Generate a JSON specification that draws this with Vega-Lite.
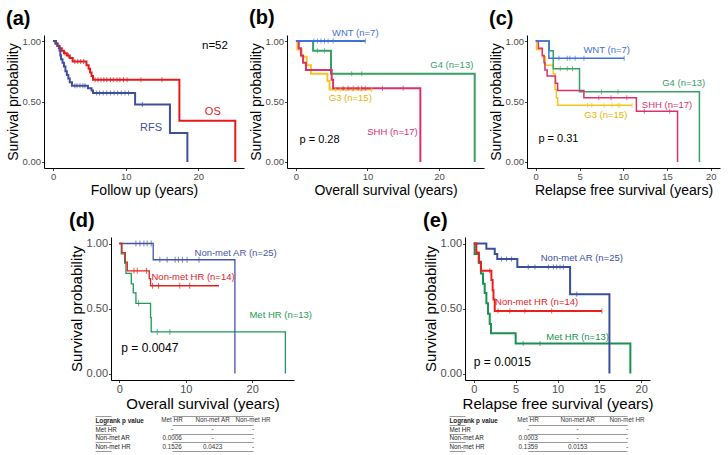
{
  "$schema": "https://vega.github.io/schema/vega-lite/v6.json",
  "background": "white",
  "padding": {"left": 6, "top": 8, "right": 2, "bottom": 2},
  "config": {
    "font": "Liberation Sans",
    "view": {"stroke": null},
    "axis": {"grid": false, "domainColor": "#000", "domainWidth": 1, "tickColor": "#444", "tickSize": 2.5, "labelColor": "#4d4d4d", "labelFontSize": 9.5, "labelPadding": 1, "titleFontSize": 14, "titleFontWeight": "normal", "titleColor": "#000", "titlePadding": 2},
    "title": {"fontSize": 20, "fontWeight": "bold", "anchor": "start", "frame": "bounds", "offset": 6, "color": "#000"}
  },
  "datasets": {
    "a": [
      {"g":"OS","t":0,"s":1,"c":0},{"g":"OS","t":0.3,"s":0.98,"c":0},{"g":"OS","t":0.6,"s":0.96,"c":0},{"g":"OS","t":0.8,"s":0.96,"c":1},{"g":"OS","t":0.9,"s":0.94,"c":0},{"g":"OS","t":1.2,"s":0.92,"c":0},{"g":"OS","t":1.5,"s":0.9,"c":0},{"g":"OS","t":1.65,"s":0.9,"c":1},{"g":"OS","t":1.9,"s":0.88,"c":0},{"g":"OS","t":2.1,"s":0.88,"c":1},{"g":"OS","t":2.3,"s":0.86,"c":0},{"g":"OS","t":2.7,"s":0.83,"c":0},{"g":"OS","t":3.0,"s":0.83,"c":1},{"g":"OS","t":3.4,"s":0.83,"c":1},{"g":"OS","t":3.8,"s":0.83,"c":1},{"g":"OS","t":4.2,"s":0.83,"c":1},{"g":"OS","t":4.6,"s":0.8,"c":0},{"g":"OS","t":4.9,"s":0.77,"c":0},{"g":"OS","t":5.1,"s":0.74,"c":0},{"g":"OS","t":5.3,"s":0.71,"c":0},{"g":"OS","t":5.5,"s":0.68,"c":0},{"g":"OS","t":5.8,"s":0.68,"c":1},{"g":"OS","t":6.2,"s":0.68,"c":1},{"g":"OS","t":6.6,"s":0.68,"c":1},{"g":"OS","t":7.0,"s":0.68,"c":1},{"g":"OS","t":7.4,"s":0.68,"c":1},{"g":"OS","t":7.9,"s":0.68,"c":1},{"g":"OS","t":8.3,"s":0.68,"c":1},{"g":"OS","t":8.8,"s":0.68,"c":1},{"g":"OS","t":9.2,"s":0.68,"c":1},{"g":"OS","t":9.7,"s":0.68,"c":1},{"g":"OS","t":10.2,"s":0.68,"c":1},{"g":"OS","t":12.1,"s":0.68,"c":1},{"g":"OS","t":15.0,"s":0.68,"c":1},{"g":"OS","t":17.4,"s":0.34,"c":0},{"g":"OS","t":25.1,"s":0,"c":0},
      {"g":"RFS","t":0,"s":1,"c":0},{"g":"RFS","t":0.4,"s":0.98,"c":0},{"g":"RFS","t":0.6,"s":0.96,"c":0},{"g":"RFS","t":0.8,"s":0.94,"c":0},{"g":"RFS","t":0.9,"s":0.92,"c":0},{"g":"RFS","t":1.0,"s":0.88,"c":0},{"g":"RFS","t":1.1,"s":0.85,"c":0},{"g":"RFS","t":1.3,"s":0.82,"c":0},{"g":"RFS","t":1.5,"s":0.79,"c":0},{"g":"RFS","t":1.7,"s":0.75,"c":0},{"g":"RFS","t":1.9,"s":0.72,"c":0},{"g":"RFS","t":2.1,"s":0.69,"c":0},{"g":"RFS","t":2.3,"s":0.66,"c":0},{"g":"RFS","t":2.6,"s":0.63,"c":0},{"g":"RFS","t":3.0,"s":0.63,"c":1},{"g":"RFS","t":3.3,"s":0.63,"c":1},{"g":"RFS","t":3.7,"s":0.63,"c":1},{"g":"RFS","t":4.1,"s":0.63,"c":1},{"g":"RFS","t":4.4,"s":0.63,"c":1},{"g":"RFS","t":4.8,"s":0.61,"c":0},{"g":"RFS","t":5.3,"s":0.59,"c":0},{"g":"RFS","t":5.5,"s":0.57,"c":0},{"g":"RFS","t":6.0,"s":0.57,"c":1},{"g":"RFS","t":6.4,"s":0.57,"c":1},{"g":"RFS","t":6.9,"s":0.57,"c":1},{"g":"RFS","t":7.4,"s":0.57,"c":1},{"g":"RFS","t":7.9,"s":0.57,"c":1},{"g":"RFS","t":8.4,"s":0.57,"c":1},{"g":"RFS","t":8.9,"s":0.57,"c":1},{"g":"RFS","t":9.4,"s":0.57,"c":1},{"g":"RFS","t":9.9,"s":0.57,"c":1},{"g":"RFS","t":10.4,"s":0.57,"c":1},{"g":"RFS","t":11.3,"s":0.475,"c":0},{"g":"RFS","t":12.3,"s":0.475,"c":1},{"g":"RFS","t":16.1,"s":0.24,"c":0},{"g":"RFS","t":18.5,"s":0,"c":0}
    ],
    "b": [
      {"g":"G3","t":0,"s":1,"c":0},{"g":"G3","t":0.2,"s":0.93,"c":0},{"g":"G3","t":0.8,"s":0.87,"c":0},{"g":"G3","t":1.5,"s":0.8,"c":0},{"g":"G3","t":2.1,"s":0.73,"c":0},{"g":"G3","t":4.4,"s":0.67,"c":0},{"g":"G3","t":4.7,"s":0.6,"c":0},{"g":"G3","t":5.5,"s":0.6,"c":1},{"g":"G3","t":6.2,"s":0.6,"c":1},{"g":"G3","t":7.0,"s":0.6,"c":1},{"g":"G3","t":8.0,"s":0.6,"c":1},{"g":"G3","t":9.0,"s":0.6,"c":1},{"g":"G3","t":10.6,"s":0.6,"c":1},
      {"g":"G4","t":0,"s":1,"c":0},{"g":"G4","t":2.4,"s":0.92,"c":0},{"g":"G4","t":3.0,"s":0.92,"c":1},{"g":"G4","t":4.0,"s":0.92,"c":1},{"g":"G4","t":4.9,"s":0.73,"c":0},{"g":"G4","t":7.8,"s":0.73,"c":1},{"g":"G4","t":9.2,"s":0.73,"c":1},{"g":"G4","t":25.0,"s":0,"c":0},
      {"g":"SHH","t":0,"s":1,"c":0},{"g":"SHH","t":0.4,"s":0.94,"c":0},{"g":"SHH","t":0.7,"s":0.88,"c":0},{"g":"SHH","t":1.0,"s":0.82,"c":0},{"g":"SHH","t":1.4,"s":0.76,"c":0},{"g":"SHH","t":5.0,"s":0.68,"c":0},{"g":"SHH","t":5.2,"s":0.61,"c":0},{"g":"SHH","t":6.6,"s":0.61,"c":1},{"g":"SHH","t":7.3,"s":0.61,"c":1},{"g":"SHH","t":8.0,"s":0.61,"c":1},{"g":"SHH","t":8.7,"s":0.61,"c":1},{"g":"SHH","t":9.2,"s":0.61,"c":1},{"g":"SHH","t":9.7,"s":0.61,"c":1},{"g":"SHH","t":12.1,"s":0.61,"c":1},{"g":"SHH","t":15.0,"s":0.61,"c":1},{"g":"SHH","t":17.4,"s":0,"c":0},
      {"g":"WNT","t":0,"s":1,"c":0},{"g":"WNT","t":2.5,"s":1,"c":1},{"g":"WNT","t":3.0,"s":1,"c":1},{"g":"WNT","t":3.5,"s":1,"c":1},{"g":"WNT","t":4.0,"s":1,"c":1},{"g":"WNT","t":4.5,"s":1,"c":1},{"g":"WNT","t":5.2,"s":1,"c":1},{"g":"WNT","t":9.7,"s":1,"c":1}
    ],
    "c": [
      {"g":"G3","t":0,"s":1,"c":0},{"g":"G3","t":0.1,"s":0.93,"c":0},{"g":"G3","t":0.75,"s":0.87,"c":0},{"g":"G3","t":1.1,"s":0.8,"c":0},{"g":"G3","t":2.0,"s":0.73,"c":0},{"g":"G3","t":2.2,"s":0.6,"c":0},{"g":"G3","t":2.35,"s":0.53,"c":0},{"g":"G3","t":2.5,"s":0.47,"c":0},{"g":"G3","t":5.9,"s":0.47,"c":1},{"g":"G3","t":6.4,"s":0.47,"c":1},{"g":"G3","t":7.8,"s":0.47,"c":1},{"g":"G3","t":8.7,"s":0.47,"c":1},{"g":"G3","t":9.4,"s":0.47,"c":1},{"g":"G3","t":9.6,"s":0.47,"c":1},{"g":"G3","t":11.0,"s":0.47,"c":1},
      {"g":"G4","t":0,"s":1,"c":0},{"g":"G4","t":1.55,"s":0.92,"c":0},{"g":"G4","t":2.0,"s":0.77,"c":0},{"g":"G4","t":2.8,"s":0.77,"c":1},{"g":"G4","t":3.6,"s":0.77,"c":1},{"g":"G4","t":4.2,"s":0.77,"c":1},{"g":"G4","t":5.0,"s":0.58,"c":0},{"g":"G4","t":7.5,"s":0.58,"c":1},{"g":"G4","t":9.4,"s":0.58,"c":1},{"g":"G4","t":18.7,"s":0,"c":0},
      {"g":"SHH","t":0,"s":1,"c":0},{"g":"SHH","t":0.3,"s":0.94,"c":0},{"g":"SHH","t":0.75,"s":0.88,"c":0},{"g":"SHH","t":0.95,"s":0.82,"c":0},{"g":"SHH","t":1.05,"s":0.76,"c":0},{"g":"SHH","t":1.3,"s":0.71,"c":0},{"g":"SHH","t":2.25,"s":0.65,"c":0},{"g":"SHH","t":2.5,"s":0.59,"c":0},{"g":"SHH","t":5.5,"s":0.53,"c":0},{"g":"SHH","t":7.2,"s":0.53,"c":1},{"g":"SHH","t":8.6,"s":0.53,"c":1},{"g":"SHH","t":10.4,"s":0.53,"c":1},{"g":"SHH","t":11.5,"s":0.42,"c":0},{"g":"SHH","t":12.4,"s":0.42,"c":1},{"g":"SHH","t":15.3,"s":0.42,"c":1},{"g":"SHH","t":16.2,"s":0,"c":0},
      {"g":"WNT","t":0,"s":1,"c":0},{"g":"WNT","t":1.5,"s":0.857,"c":0},{"g":"WNT","t":2.65,"s":0.857,"c":1},{"g":"WNT","t":3.6,"s":0.857,"c":1},{"g":"WNT","t":3.9,"s":0.857,"c":1},{"g":"WNT","t":4.5,"s":0.857,"c":1},{"g":"WNT","t":5.5,"s":0.857,"c":1},{"g":"WNT","t":10.1,"s":0.857,"c":1}
    ],
    "d": [
      {"g":"Met HR","t":0,"s":1,"c":0},{"g":"Met HR","t":0.3,"s":0.92,"c":0},{"g":"Met HR","t":0.8,"s":0.85,"c":0},{"g":"Met HR","t":1.0,"s":0.77,"c":0},{"g":"Met HR","t":1.8,"s":0.69,"c":0},{"g":"Met HR","t":2.1,"s":0.62,"c":0},{"g":"Met HR","t":2.5,"s":0.54,"c":0},{"g":"Met HR","t":2.9,"s":0.54,"c":1},{"g":"Met HR","t":4.7,"s":0.43,"c":0},{"g":"Met HR","t":4.8,"s":0.32,"c":0},{"g":"Met HR","t":5.7,"s":0.32,"c":1},{"g":"Met HR","t":7.6,"s":0.32,"c":1},{"g":"Met HR","t":25.0,"s":0,"c":0},
      {"g":"Non-met AR","t":0,"s":1,"c":0},{"g":"Non-met AR","t":2.5,"s":1,"c":1},{"g":"Non-met AR","t":3.1,"s":1,"c":1},{"g":"Non-met AR","t":3.7,"s":1,"c":1},{"g":"Non-met AR","t":4.2,"s":1,"c":1},{"g":"Non-met AR","t":4.8,"s":1,"c":1},{"g":"Non-met AR","t":5.1,"s":0.875,"c":0},{"g":"Non-met AR","t":6.1,"s":0.875,"c":1},{"g":"Non-met AR","t":7.2,"s":0.875,"c":1},{"g":"Non-met AR","t":8.4,"s":0.875,"c":1},{"g":"Non-met AR","t":8.9,"s":0.875,"c":1},{"g":"Non-met AR","t":9.5,"s":0.875,"c":1},{"g":"Non-met AR","t":10.2,"s":0.875,"c":1},{"g":"Non-met AR","t":12.0,"s":0.875,"c":1},{"g":"Non-met AR","t":17.4,"s":0,"c":0},
      {"g":"Non-met HR","t":0,"s":1,"c":0},{"g":"Non-met HR","t":0.4,"s":0.93,"c":0},{"g":"Non-met HR","t":0.9,"s":0.857,"c":0},{"g":"Non-met HR","t":1.2,"s":0.79,"c":0},{"g":"Non-met HR","t":2.2,"s":0.79,"c":1},{"g":"Non-met HR","t":2.7,"s":0.79,"c":1},{"g":"Non-met HR","t":4.1,"s":0.79,"c":1},{"g":"Non-met HR","t":4.5,"s":0.73,"c":0},{"g":"Non-met HR","t":4.7,"s":0.675,"c":0},{"g":"Non-met HR","t":5.0,"s":0.675,"c":1},{"g":"Non-met HR","t":5.9,"s":0.675,"c":1},{"g":"Non-met HR","t":9.1,"s":0.675,"c":1},{"g":"Non-met HR","t":10.6,"s":0.675,"c":1},{"g":"Non-met HR","t":15.0,"s":0.675,"c":0}
    ],
    "e": [
      {"g":"Met HR","t":0,"s":1,"c":0},{"g":"Met HR","t":0.1,"s":0.92,"c":0},{"g":"Met HR","t":0.6,"s":0.85,"c":0},{"g":"Met HR","t":0.85,"s":0.77,"c":0},{"g":"Met HR","t":1.1,"s":0.69,"c":0},{"g":"Met HR","t":1.3,"s":0.62,"c":0},{"g":"Met HR","t":1.5,"s":0.54,"c":0},{"g":"Met HR","t":1.7,"s":0.46,"c":0},{"g":"Met HR","t":1.9,"s":0.38,"c":0},{"g":"Met HR","t":2.05,"s":0.31,"c":0},{"g":"Met HR","t":5.0,"s":0.23,"c":0},{"g":"Met HR","t":5.9,"s":0.23,"c":1},{"g":"Met HR","t":7.9,"s":0.23,"c":1},{"g":"Met HR","t":18.7,"s":0,"c":0},
      {"g":"Non-met AR","t":0,"s":1,"c":0},{"g":"Non-met AR","t":1.5,"s":0.96,"c":0},{"g":"Non-met AR","t":2.5,"s":0.92,"c":0},{"g":"Non-met AR","t":2.8,"s":0.88,"c":0},{"g":"Non-met AR","t":3.3,"s":0.88,"c":1},{"g":"Non-met AR","t":3.9,"s":0.88,"c":1},{"g":"Non-met AR","t":4.5,"s":0.88,"c":1},{"g":"Non-met AR","t":5.2,"s":0.82,"c":0},{"g":"Non-met AR","t":6.5,"s":0.82,"c":1},{"g":"Non-met AR","t":7.3,"s":0.82,"c":1},{"g":"Non-met AR","t":8.9,"s":0.82,"c":1},{"g":"Non-met AR","t":9.5,"s":0.82,"c":1},{"g":"Non-met AR","t":9.9,"s":0.82,"c":1},{"g":"Non-met AR","t":10.3,"s":0.82,"c":1},{"g":"Non-met AR","t":10.7,"s":0.82,"c":1},{"g":"Non-met AR","t":11.5,"s":0.61,"c":0},{"g":"Non-met AR","t":12.3,"s":0.61,"c":1},{"g":"Non-met AR","t":16.2,"s":0,"c":0},
      {"g":"Non-met HR","t":0,"s":1,"c":0},{"g":"Non-met HR","t":0.3,"s":0.93,"c":0},{"g":"Non-met HR","t":0.6,"s":0.86,"c":0},{"g":"Non-met HR","t":0.85,"s":0.79,"c":0},{"g":"Non-met HR","t":1.9,"s":0.79,"c":1},{"g":"Non-met HR","t":2.1,"s":0.72,"c":0},{"g":"Non-met HR","t":2.25,"s":0.64,"c":0},{"g":"Non-met HR","t":2.35,"s":0.57,"c":0},{"g":"Non-met HR","t":2.5,"s":0.48,"c":0},{"g":"Non-met HR","t":2.9,"s":0.48,"c":1},{"g":"Non-met HR","t":4.3,"s":0.48,"c":1},{"g":"Non-met HR","t":6.1,"s":0.48,"c":1},{"g":"Non-met HR","t":9.3,"s":0.48,"c":1},{"g":"Non-met HR","t":15.3,"s":0.48,"c":1}
    ],
    "td": [
      {"r":"Logrank p value","col":"Met HR","v":"Met HR"},{"r":"Logrank p value","col":"Non-met AR","v":"Non-met AR"},{"r":"Logrank p value","col":"Non-met HR","v":"Non-met HR"},
      {"r":"Met HR","col":"Met HR","v":"-"},{"r":"Met HR","col":"Non-met AR","v":"-"},{"r":"Met HR","col":"Non-met HR","v":"-"},
      {"r":"Non-met AR","col":"Met HR","v":"0.0006"},{"r":"Non-met AR","col":"Non-met AR","v":"-"},{"r":"Non-met AR","col":"Non-met HR","v":"-"},
      {"r":"Non-met HR","col":"Met HR","v":"0.1526"},{"r":"Non-met HR","col":"Non-met AR","v":"0.0423"},{"r":"Non-met HR","col":"Non-met HR","v":"-"}
    ],
    "te": [
      {"r":"Logrank p value","col":"Met HR","v":"Met HR"},{"r":"Logrank p value","col":"Non-met AR","v":"Non-met AR"},{"r":"Logrank p value","col":"Non-met HR","v":"Non-met HR"},
      {"r":"Met HR","col":"Met HR","v":"-"},{"r":"Met HR","col":"Non-met AR","v":"-"},{"r":"Met HR","col":"Non-met HR","v":"-"},
      {"r":"Non-met AR","col":"Met HR","v":"0.0003"},{"r":"Non-met AR","col":"Non-met AR","v":"-"},{"r":"Non-met AR","col":"Non-met HR","v":"-"},
      {"r":"Non-met HR","col":"Met HR","v":"0.1359"},{"r":"Non-met HR","col":"Non-met AR","v":"0.0153"},{"r":"Non-met HR","col":"Non-met HR","v":"-"}
    ]
  },
  "spacing": 14,
  "center": true,
  "resolve": {"scale": {"color": "independent"}},
  "vconcat": [
    {
      "spacing": 5,
      "resolve": {"scale": {"color": "independent"}},
      "hconcat": [
        {
          "width": 200, "height": 133,
          "title": {"text": "(a)"},
          "data": {"name": "a"},
          "layer": [
            {
              "encoding": {
                "x": {"field": "t", "type": "quantitative", "scale": {"domain": [-1.25, 26.3], "nice": false, "zero": false}, "axis": {"values": [0, 5, 10, 15, 20, 25], "title": "Follow up (years)"}},
                "y": {"field": "s", "type": "quantitative", "scale": {"domain": [-0.05, 1.05], "nice": false, "zero": false}, "axis": {"values": [0, 0.25, 0.5, 0.75, 1], "format": ".2f", "title": "Survival probability"}},
                "color": {"field": "g", "type": "nominal", "scale": {"domain": ["OS", "RFS"], "range": ["#e41a1c", "#3f4f9e"]}, "legend": null}
              },
              "layer": [
                {"mark": {"type": "line", "interpolate": "step-after", "strokeWidth": 2}},
                {"transform": [{"filter": "datum.c == 1"}], "mark": {"type": "tick", "orient": "vertical", "size": 5, "thickness": 1}}
              ]
            },
            {"data": {"values": [{"label": "n=52"}]}, "mark": {"type": "text", "fontSize": 11.5, "color": "#000"}, "encoding": {"x": {"datum": 22.3, "type": "quantitative"}, "y": {"datum": 0.96, "type": "quantitative"}, "text": {"field": "label", "type": "nominal"}}},
            {"data": {"values": [{"label": "OS"}]}, "mark": {"type": "text", "fontSize": 11, "color": "#e41a1c"}, "encoding": {"x": {"datum": 22, "type": "quantitative"}, "y": {"datum": 0.41, "type": "quantitative"}, "text": {"field": "label", "type": "nominal"}}},
            {"data": {"values": [{"label": "RFS"}]}, "mark": {"type": "text", "fontSize": 11, "color": "#3f4f9e"}, "encoding": {"x": {"datum": 13.5, "type": "quantitative"}, "y": {"datum": 0.28, "type": "quantitative"}, "text": {"field": "label", "type": "nominal"}}}
          ]
        },
        {
          "width": 197, "height": 133,
          "title": {"text": "(b)", "offset": 0},
          "data": {"name": "b"},
          "layer": [
            {
              "encoding": {
                "x": {"field": "t", "type": "quantitative", "scale": {"domain": [-1.25, 26.3], "nice": false, "zero": false}, "axis": {"values": [0, 5, 10, 15, 20, 25], "title": "Overall survival (years)"}},
                "y": {"field": "s", "type": "quantitative", "scale": {"domain": [-0.05, 1.05], "nice": false, "zero": false}, "axis": {"values": [0, 0.25, 0.5, 0.75, 1], "format": ".2f", "title": "Survival probability"}},
                "color": {"field": "g", "type": "nominal", "scale": {"domain": ["G3", "G4", "SHH", "WNT"], "range": ["#f7c520", "#36a066", "#d8326e", "#4272d7"]}, "legend": null}
              },
              "layer": [
                {"mark": {"type": "line", "interpolate": "step-after", "strokeWidth": 2}},
                {"transform": [{"filter": "datum.c == 1"}], "mark": {"type": "tick", "orient": "vertical", "size": 5, "thickness": 1}}
              ]
            },
            {"data": {"values": [{"label": "WNT (n=7)"}]}, "mark": {"type": "text", "fontSize": 9.5, "color": "#4272d7"}, "encoding": {"x": {"datum": 8.3, "type": "quantitative"}, "y": {"datum": 1.066, "type": "quantitative"}, "text": {"field": "label", "type": "nominal"}}},
            {"data": {"values": [{"label": "G4 (n=13)"}]}, "mark": {"type": "text", "fontSize": 9.5, "color": "#36a066"}, "encoding": {"x": {"datum": 21.8, "type": "quantitative"}, "y": {"datum": 0.8, "type": "quantitative"}, "text": {"field": "label", "type": "nominal"}}},
            {"data": {"values": [{"label": "G3 (n=15)"}]}, "mark": {"type": "text", "fontSize": 9.5, "color": "#e8b400"}, "encoding": {"x": {"datum": 7.6, "type": "quantitative"}, "y": {"datum": 0.53, "type": "quantitative"}, "text": {"field": "label", "type": "nominal"}}},
            {"data": {"values": [{"label": "SHH (n=17)"}]}, "mark": {"type": "text", "fontSize": 9.5, "color": "#d8326e"}, "encoding": {"x": {"datum": 13.5, "type": "quantitative"}, "y": {"datum": 0.25, "type": "quantitative"}, "text": {"field": "label", "type": "nominal"}}},
            {"data": {"values": [{"label": "p = 0.28"}]}, "mark": {"type": "text", "fontSize": 11, "align": "left", "color": "#000"}, "encoding": {"x": {"datum": 0.5, "type": "quantitative"}, "y": {"datum": 0.18, "type": "quantitative"}, "text": {"field": "label", "type": "nominal"}}}
          ]
        },
        {
          "width": 193, "height": 133,
          "title": {"text": "(c)"},
          "data": {"name": "c"},
          "layer": [
            {
              "encoding": {
                "x": {"field": "t", "type": "quantitative", "scale": {"domain": [-1.0, 21.05], "nice": false, "zero": false}, "axis": {"values": [0, 5, 10, 15, 20], "title": "Relapse free survival (years)"}},
                "y": {"field": "s", "type": "quantitative", "scale": {"domain": [-0.05, 1.05], "nice": false, "zero": false}, "axis": {"values": [0, 0.25, 0.5, 0.75, 1], "format": ".2f", "title": "Survival probability"}},
                "color": {"field": "g", "type": "nominal", "scale": {"domain": ["G3", "G4", "SHH", "WNT"], "range": ["#f7c520", "#36a066", "#d8326e", "#4272d7"]}, "legend": null}
              },
              "layer": [
                {"mark": {"type": "line", "interpolate": "step-after", "strokeWidth": 1.5}},
                {"transform": [{"filter": "datum.c == 1"}], "mark": {"type": "tick", "orient": "vertical", "size": 5, "thickness": 1}}
              ]
            },
            {"data": {"values": [{"label": "WNT (n=7)"}]}, "mark": {"type": "text", "fontSize": 9.5, "color": "#4272d7"}, "encoding": {"x": {"datum": 8.1, "type": "quantitative"}, "y": {"datum": 0.93, "type": "quantitative"}, "text": {"field": "label", "type": "nominal"}}},
            {"data": {"values": [{"label": "G4 (n=13)"}]}, "mark": {"type": "text", "fontSize": 9.5, "color": "#36a066"}, "encoding": {"x": {"datum": 16.9, "type": "quantitative"}, "y": {"datum": 0.65, "type": "quantitative"}, "text": {"field": "label", "type": "nominal"}}},
            {"data": {"values": [{"label": "SHH (n=17)"}]}, "mark": {"type": "text", "fontSize": 9.5, "color": "#d8326e"}, "encoding": {"x": {"datum": 15.0, "type": "quantitative"}, "y": {"datum": 0.47, "type": "quantitative"}, "text": {"field": "label", "type": "nominal"}}},
            {"data": {"values": [{"label": "G3 (n=15)"}]}, "mark": {"type": "text", "fontSize": 9.5, "color": "#e8b400"}, "encoding": {"x": {"datum": 8.0, "type": "quantitative"}, "y": {"datum": 0.39, "type": "quantitative"}, "text": {"field": "label", "type": "nominal"}}},
            {"data": {"values": [{"label": "p = 0.31"}]}, "mark": {"type": "text", "fontSize": 11, "align": "left", "color": "#000"}, "encoding": {"x": {"datum": 0.3, "type": "quantitative"}, "y": {"datum": 0.19, "type": "quantitative"}, "text": {"field": "label", "type": "nominal"}}}
          ]
        }
      ]
    },
    {
      "spacing": 111,
      "resolve": {"scale": {"color": "independent"}},
      "hconcat": [
        {
          "spacing": 1,
          "resolve": {"scale": {"color": "independent"}},
          "vconcat": [
            {
              "width": 183, "height": 143,
              "title": {"text": "(d)"},
              "data": {"name": "d"},
              "layer": [
                {
                  "encoding": {
                    "x": {"field": "t", "type": "quantitative", "scale": {"domain": [-1.25, 26.3], "nice": false, "zero": false}, "axis": {"values": [0, 5, 10, 15, 20, 25], "title": "Overall survival (years)", "labelFontSize": 11, "titleFontSize": 15, "titlePadding": 2}},
                    "y": {"field": "s", "type": "quantitative", "scale": {"domain": [-0.05, 1.05], "nice": false, "zero": false}, "axis": {"values": [0, 0.25, 0.5, 0.75, 1], "format": ".2f", "title": "Survival probability", "labelFontSize": 11, "titleFontSize": 15}},
                    "color": {"field": "g", "type": "nominal", "scale": {"domain": ["Met HR", "Non-met AR", "Non-met HR"], "range": ["#1e9a54", "#4555a5", "#e3211c"]}, "legend": null}
                  },
                  "layer": [
                    {"mark": {"type": "line", "interpolate": "step-after", "strokeWidth": 1.3}},
                    {"transform": [{"filter": "datum.c == 1"}], "mark": {"type": "tick", "orient": "vertical", "size": 6, "thickness": 1}}
                  ]
                },
                {"data": {"values": [{"label": "Non-met AR (n=25)"}]}, "mark": {"type": "text", "fontSize": 9.5, "color": "#4555a5"}, "encoding": {"x": {"datum": 17.5, "type": "quantitative"}, "y": {"datum": 0.93, "type": "quantitative"}, "text": {"field": "label", "type": "nominal"}}},
                {"data": {"values": [{"label": "Non-met HR (n=14)"}]}, "mark": {"type": "text", "fontSize": 9.5, "color": "#e3211c"}, "encoding": {"x": {"datum": 11.1, "type": "quantitative"}, "y": {"datum": 0.74, "type": "quantitative"}, "text": {"field": "label", "type": "nominal"}}},
                {"data": {"values": [{"label": "Met HR (n=13)"}]}, "mark": {"type": "text", "fontSize": 9.5, "color": "#1e9a54"}, "encoding": {"x": {"datum": 24.3, "type": "quantitative"}, "y": {"datum": 0.45, "type": "quantitative"}, "text": {"field": "label", "type": "nominal"}}},
                {"data": {"values": [{"label": "p = 0.0047"}]}, "mark": {"type": "text", "fontSize": 12, "align": "left", "color": "#000"}, "encoding": {"x": {"datum": 0.3, "type": "quantitative"}, "y": {"datum": 0.2, "type": "quantitative"}, "text": {"field": "label", "type": "nominal"}}}
              ]
            },
            {
              "width": 176, "height": 35,
              "data": {"name": "td"},
              "mark": {"type": "text", "fontSize": 6.3, "color": "#333"},
              "encoding": {
                "x": {"field": "col", "type": "nominal", "scale": {"type": "point", "domain": ["Met HR", "Non-met AR", "Non-met HR"], "range": [61, 142], "padding": 0}, "axis": null},
                "y": {"field": "r", "type": "nominal", "scale": {"type": "band", "domain": ["Logrank p value", "Met HR", "Non-met AR", "Non-met HR"], "paddingInner": 0, "paddingOuter": 0}, "axis": {"title": null, "domain": false, "ticks": true, "tickBand": "extent", "tickSize": 16, "tickColor": "#999", "grid": true, "gridColor": "#999", "labelAlign": "left", "labelPadding": 0, "labelFontSize": 6.3, "labelColor": "#222", "labelFontWeight": {"condition": {"test": "datum.value === 'Logrank p value'", "value": "bold"}, "value": "normal"}}},
                "text": {"field": "v"}
              }
            }
          ]
        },
        {
          "spacing": 1,
          "resolve": {"scale": {"color": "independent"}},
          "vconcat": [
            {
              "width": 185, "height": 143,
              "title": {"text": "(e)"},
              "data": {"name": "e"},
              "layer": [
                {
                  "encoding": {
                    "x": {"field": "t", "type": "quantitative", "scale": {"domain": [-1.05, 21.05], "nice": false, "zero": false}, "axis": {"values": [0, 5, 10, 15, 20], "title": "Relapse free survival (years)", "labelFontSize": 11, "titleFontSize": 15, "titlePadding": 2}},
                    "y": {"field": "s", "type": "quantitative", "scale": {"domain": [-0.05, 1.05], "nice": false, "zero": false}, "axis": {"values": [0, 0.25, 0.5, 0.75, 1], "format": ".2f", "title": "Survival probability", "labelFontSize": 11, "titleFontSize": 15}},
                    "color": {"field": "g", "type": "nominal", "scale": {"domain": ["Met HR", "Non-met AR", "Non-met HR"], "range": ["#199052", "#3c4f9e", "#e8211d"]}, "legend": null}
                  },
                  "layer": [
                    {"mark": {"type": "line", "interpolate": "step-after", "strokeWidth": 2}},
                    {"transform": [{"filter": "datum.c == 1"}], "mark": {"type": "tick", "orient": "vertical", "size": 5, "thickness": 1}}
                  ]
                },
                {"data": {"values": [{"label": "Non-met AR (n=25)"}]}, "mark": {"type": "text", "fontSize": 9.5, "color": "#3c4f9e"}, "encoding": {"x": {"datum": 12.9, "type": "quantitative"}, "y": {"datum": 0.89, "type": "quantitative"}, "text": {"field": "label", "type": "nominal"}}},
                {"data": {"values": [{"label": "Non-met HR (n=14)"}]}, "mark": {"type": "text", "fontSize": 9.5, "color": "#e8211d"}, "encoding": {"x": {"datum": 7.5, "type": "quantitative"}, "y": {"datum": 0.55, "type": "quantitative"}, "text": {"field": "label", "type": "nominal"}}},
                {"data": {"values": [{"label": "Met HR (n=13)"}]}, "mark": {"type": "text", "fontSize": 9.5, "color": "#199052"}, "encoding": {"x": {"datum": 12.4, "type": "quantitative"}, "y": {"datum": 0.28, "type": "quantitative"}, "text": {"field": "label", "type": "nominal"}}},
                {"data": {"values": [{"label": "p = 0.0015"}]}, "mark": {"type": "text", "fontSize": 12, "align": "left", "color": "#000"}, "encoding": {"x": {"datum": 0, "type": "quantitative"}, "y": {"datum": 0.09, "type": "quantitative"}, "text": {"field": "label", "type": "nominal"}}}
              ]
            },
            {
              "width": 187, "height": 35,
              "data": {"name": "te"},
              "mark": {"type": "text", "fontSize": 6.3, "color": "#333"},
              "encoding": {
                "x": {"field": "col", "type": "nominal", "scale": {"type": "point", "domain": ["Met HR", "Non-met AR", "Non-met HR"], "range": [63, 162], "padding": 0}, "axis": null},
                "y": {"field": "r", "type": "nominal", "scale": {"type": "band", "domain": ["Logrank p value", "Met HR", "Non-met AR", "Non-met HR"], "paddingInner": 0, "paddingOuter": 0}, "axis": {"title": null, "domain": false, "ticks": true, "tickBand": "extent", "tickSize": 16, "tickColor": "#999", "grid": true, "gridColor": "#999", "labelAlign": "left", "labelPadding": 0, "labelFontSize": 6.3, "labelColor": "#222", "labelFontWeight": {"condition": {"test": "datum.value === 'Logrank p value'", "value": "bold"}, "value": "normal"}}},
                "text": {"field": "v"}
              }
            }
          ]
        }
      ]
    }
  ]
}
